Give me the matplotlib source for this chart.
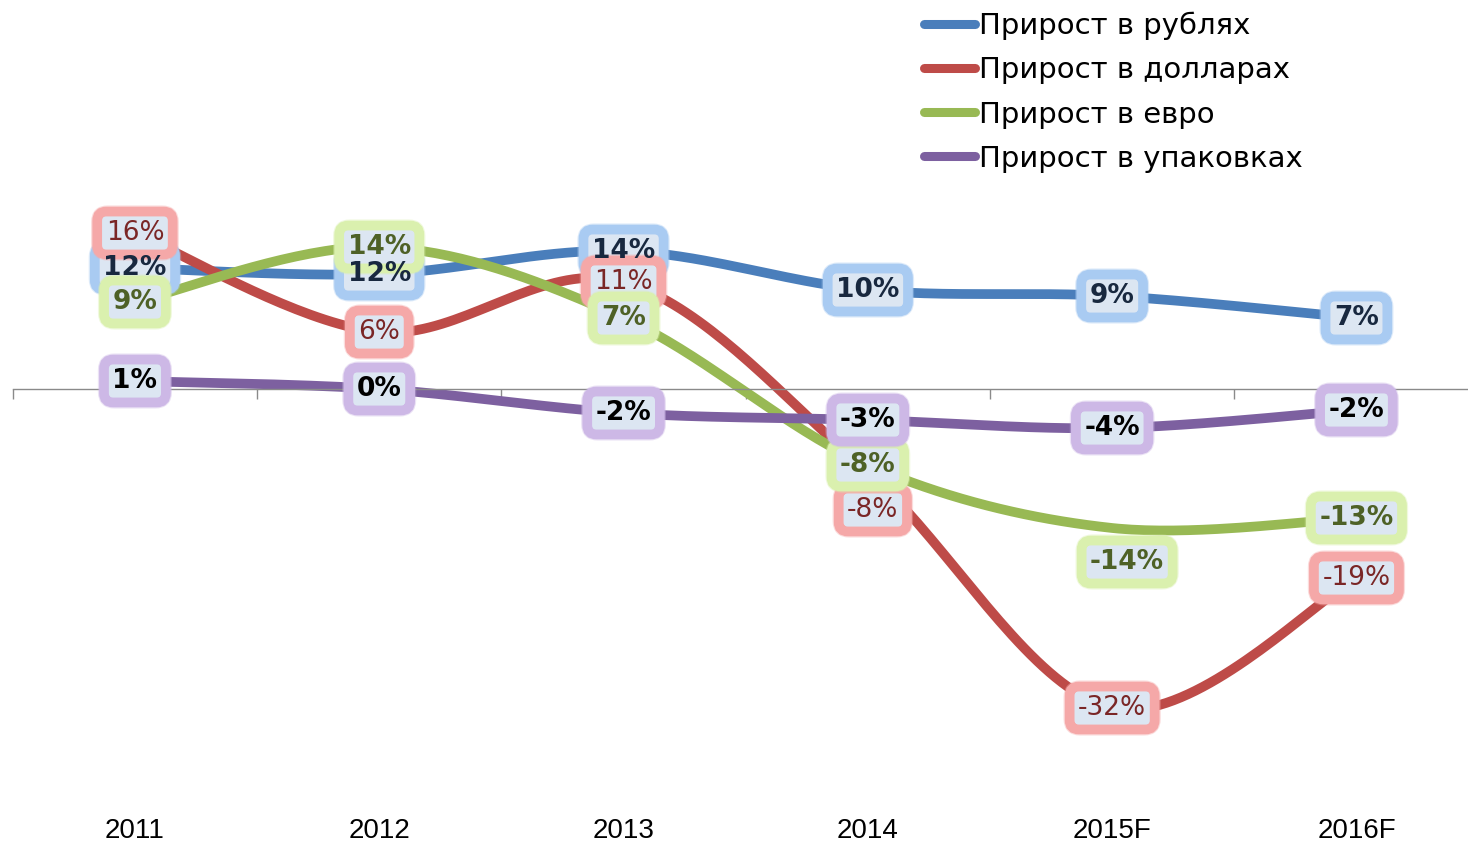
import numpy as np
import matplotlib
matplotlib.use("Agg")
import matplotlib.pyplot as plt
from matplotlib.transforms import blended_transform_factory

years = ["2011", "2012", "2013", "2014", "2015F", "2016F"]
rub = [12.1, 11.5, 13.8, 9.9, 9.3, 7.1]
usd = [15.6, 5.7, 10.7, -8.3, -31.9, -18.9]
eur = [8.7, 14.2, 7.1, -7.6, -13.9, -12.9]
packs = [0.8, 0.0, -2.4, -3.1, -3.9, -2.1]
names = ["Прирост в рублях", "Прирост в долларах", "Прирост в евро", "Прирост в упаковках"]

line_colors = ["#4A7EBB", "#BE4B48", "#98B954", "#7D60A0"]
glow_colors = ["#A9CBF2", "#F5A8A8", "#DAF0AE", "#CDB8E6"]
text_colors = ["#18283F", "#7A2626", "#4E6126", "#000000"]
text_weights = ["bold", "normal", "bold", "bold"]
# manually moved labels: (series, point) -> offset in pixels
label_shift = {(1, 3): (5, -38), (2, 4): (15, -34)}


def smooth(xs, ys, n=40):
    pts = np.column_stack([xs, ys]).astype(float)
    out = []
    for i in range(len(pts) - 1):
        p0 = pts[max(i - 1, 0)]
        p1 = pts[i]
        p2 = pts[i + 1]
        p3 = pts[min(i + 2, len(pts) - 1)]
        c1 = p1 + (p2 - p0) / 6
        c2 = p2 - (p3 - p1) / 6
        t = np.linspace(0, 1, n)[:, None]
        seg = (1 - t) ** 3 * p1 + 3 * (1 - t) ** 2 * t * c1 + 3 * (1 - t) * t ** 2 * c2 + t ** 3 * p2
        out.append(seg if i == 0 else seg[1:])
    out = np.vstack(out)
    return out[:, 0], out[:, 1]


fig = plt.figure(figsize=(14.68, 8.44), dpi=100)
ax = fig.add_axes([12.8 / 1468, 55 / 844, 1465.8 / 1468, 600 / 844])
ax.set_xlim(-0.5, 5.5)
ax.set_ylim(-40, 20)

x = np.arange(len(years))
series = [rub, usd, eur, packs]
for k, vals in enumerate(series):
    sx, sy = smooth(x, vals)
    ax.plot(sx, sy, color=line_colors[k], lw=7, solid_capstyle="butt", zorder=2 + k * 0.1)

# boxes first, then all texts above them (as Excel draws overlapping labels)
for k, vals in enumerate(series):
    for i, v in enumerate(vals):
        dx, dy = label_shift.get((k, i), (0, 0))
        txt = "%d%%" % int(np.floor(v + 0.5))
        kw = dict(xytext=(dx * 0.72, dy * 0.72), textcoords="offset points",
                  ha="center", va="center", fontsize=19, family="DejaVu Sans",
                  fontweight=text_weights[k])
        # soft outer fringe of the glow
        ax.annotate(txt, (i, v), color="none", zorder=5 + k * 0.1,
                    bbox=dict(boxstyle="round,pad=0.42,rounding_size=0.5", fc="none",
                              ec=glow_colors[k], lw=5, alpha=0.4), **kw)
        ax.annotate(txt, (i, v), color="none", zorder=5.05 + k * 0.1,
                    bbox=dict(boxstyle="round,pad=0.32,rounding_size=0.35", fc="#DCE6F2",
                              ec=glow_colors[k], lw=7), **kw)
        ax.annotate(txt, (i, v), color=text_colors[k], zorder=10, **kw)

for s in ["top", "left", "right"]:
    ax.spines[s].set_visible(False)
ax.spines["bottom"].set_position(("data", 0))
ax.spines["bottom"].set_color("#8A8A8A")
ax.spines["bottom"].set_linewidth(1)
ax.set_yticks([])
ax.set_xticks(np.arange(-0.5, 6, 1))
ax.set_xticklabels([])
ax.tick_params(axis="x", direction="out", length=7, color="#8A8A8A", width=1)

trans = blended_transform_factory(ax.transData, ax.transAxes)
for i, yr in enumerate(years):
    ax.text(i, -0.07, yr, transform=trans, ha="center", va="center",
            fontsize=20, family="Liberation Sans", color="#000000")

leg_lines = [plt.Line2D([], [], color=c, lw=6.5, solid_capstyle="round") for c in line_colors]
fig.legend(leg_lines, names, loc="upper left", bbox_to_anchor=(924 / 1468, 1 - 12 / 844),
           frameon=False, handlelength=1.75, handletextpad=0.12,
           labelspacing=0.55, borderpad=0, borderaxespad=0,
           prop={"family": "DejaVu Sans", "size": 21})

fig.savefig("out.png", dpi=100)
